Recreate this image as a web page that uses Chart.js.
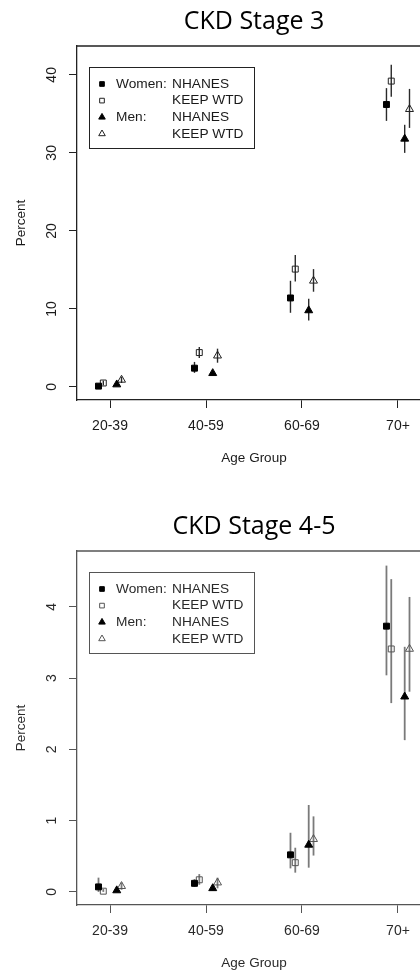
<!DOCTYPE html>
<html>
<head>
<meta charset="utf-8">
<script src="https://cdn.jsdelivr.net/npm/chart.js@4.4.1/dist/chart.umd.min.js"></script>
<style>
html, body { margin: 0; padding: 0; background: #fff; overflow: hidden; width: 420px; height: 973px; }
.panel { position: absolute; left: 0; width: 450px; height: 485px; }
</style>
</head>
<body>
<div class="panel" style="top:0"><canvas id="stage3"></canvas></div>
<div class="panel" style="top:505px"><canvas id="stage45"></canvas></div>
<script>
const ageGroups = ['20-39', '40-59', '60-69', '70+'];
const groupTicks = [1, 2, 3, 4];
const seriesNames = ['Women: NHANES', 'Women: KEEP WTD', 'Men: NHANES', 'Men: KEEP WTD'];
const legendSex = ['Women:', '', 'Men:', ''];
const legendSource = ['NHANES', 'KEEP WTD', 'NHANES', 'KEEP WTD'];
const dodge = [-0.12, -0.07, 0.07, 0.12]; // side-by-side shift within an age group

// CKD stage 3, percent (point, lower, upper)
const s3WomenNhanes = [0.1, 2.4, 11.4, 36.2];
const s3WomenNhanesLo = [0.0, 1.8, 9.5, 34.1];
const s3WomenNhanesHi = [0.3, 3.2, 13.6, 38.3];
const s3WomenKeep = [0.5, 4.4, 15.1, 39.2];
const s3WomenKeepLo = [0.2, 3.7, 13.5, 37.2];
const s3WomenKeepHi = [0.8, 5.1, 16.9, 41.3];
const s3MenNhanes = [0.3, 1.75, 9.8, 31.8];
const s3MenNhanesLo = [0.1, 1.5, 8.5, 30.0];
const s3MenNhanesHi = [0.5, 2.0, 11.3, 33.6];
const s3MenKeep = [0.9, 4.0, 13.6, 35.6];
const s3MenKeepLo = [0.5, 3.1, 12.2, 33.2];
const s3MenKeepHi = [1.3, 4.9, 15.1, 38.2];
const s3Ticks = [0, 10, 20, 30, 40];

// CKD stage 4-5, percent
const s45WomenNhanes = [0.07, 0.12, 0.52, 3.73];
const s45WomenNhanesLo = [0.0, 0.07, 0.33, 3.04];
const s45WomenNhanesHi = [0.2, 0.18, 0.83, 4.58];
const s45WomenKeep = [0.01, 0.17, 0.41, 3.41];
const s45WomenKeepLo = [0.0, 0.10, 0.27, 2.65];
const s45WomenKeepHi = [0.04, 0.25, 0.62, 4.39];
const s45MenNhanes = [0.02, 0.05, 0.66, 2.74];
const s45MenNhanesLo = [0.0, 0.02, 0.34, 2.13];
const s45MenNhanesHi = [0.05, 0.09, 1.22, 3.44];
const s45MenKeep = [0.08, 0.13, 0.74, 3.41];
const s45MenKeepLo = [0.03, 0.05, 0.51, 2.81];
const s45MenKeepHi = [0.13, 0.20, 1.06, 4.14];
const s45Ticks = [0, 1, 2, 3, 4];

const pointStyles = ['rect', 'rect', 'triangle', 'triangle'];
const filled = [true, false, true, false];

function points(k, vals, lo, hi) {
    return vals.map((v, i) => ({ x: groupTicks[i] + dodge[k], y: v, lo: lo[i], hi: hi[i] }));
}

// vertical confidence lines behind the markers
const errorBars = {
    id: 'errorBars',
    beforeDatasetsDraw(chart, args, opts) {
        const { ctx, scales: { x, y } } = chart;
        ctx.save();
        ctx.strokeStyle = opts.color;
        ctx.lineWidth = opts.width;
        chart.data.datasets.forEach(ds => {
            ds.data.forEach(p => {
                const px = x.getPixelForValue(p.x);
                ctx.beginPath();
                ctx.moveTo(px, y.getPixelForValue(p.lo));
                ctx.lineTo(px, y.getPixelForValue(p.hi));
                ctx.stroke();
            });
        });
        ctx.restore();
    }
};

// R style box round the plot plus the boxed legend
const frameLegend = {
    id: 'frameLegend',
    afterDraw(chart, args, opts) {
        const { ctx, chartArea: a } = chart;
        ctx.save();
        ctx.strokeStyle = opts.color;
        ctx.lineWidth = 1.3;
        ctx.beginPath();
        ctx.moveTo(a.left, a.top);
        ctx.lineTo(a.right, a.top);
        ctx.lineTo(a.right, a.bottom);
        ctx.stroke();

        const bx = a.left + 12, by = a.top + 21;
        ctx.lineWidth = 1;
        ctx.strokeRect(bx + 0.5, by + 0.5, 165, 81);
        ctx.font = '13.7px "Liberation Sans", Arial, sans-serif';
        ctx.textBaseline = 'middle';
        ctx.fillStyle = opts.text;
        for (let k = 0; k < 4; k++) {
            const ry = by + 17 + k * 16.6;
            ctx.save();
            ctx.fillStyle = filled[k] ? '#000' : 'rgba(0,0,0,0)';
            ctx.strokeStyle = filled[k] ? '#000' : opts.open;
            ctx.lineWidth = 1;
            Chart.helpers.drawPoint(ctx, { pointStyle: pointStyles[k], radius: k < 2 ? 3.3 : 3.8, rotation: 0, borderWidth: 1 }, bx + 13, ry);
            ctx.restore();
            ctx.fillText(legendSex[k], bx + 27, ry);
            ctx.fillText(legendSource[k], bx + 83, ry);
        }
        ctx.restore();
    }
};

function makeChart(id, title, series, yMin, yMax, yTicks, look) {
    const datasets = series.map((s, k) => ({
        label: seriesNames[k],
        data: points(k, s[0], s[1], s[2]),
        pointStyle: pointStyles[k],
        pointRadius: k < 2 ? 4.2 : 4.6,
        pointBackgroundColor: filled[k] ? '#000' : 'rgba(0,0,0,0)',
        pointBorderColor: filled[k] ? '#000' : look.open,
        pointBorderWidth: 1,
        showLine: false
    }));
    const tickFont = { family: '"Liberation Sans", Arial, sans-serif', size: 14 };
    const titleFont = { family: '"Liberation Sans", Arial, sans-serif', size: 13.5 };
    return new Chart(document.getElementById(id), {
        type: 'scatter',
        data: { datasets },
        plugins: [errorBars, frameLegend],
        options: {
            responsive: true,
            maintainAspectRatio: false,
            animation: false,
            devicePixelRatio: 1,
            layout: { padding: { left: 0, right: 19, top: 0, bottom: 0 } },
            plugins: {
                legend: { display: false },
                tooltip: { enabled: false },
                title: {
                    display: true,
                    text: title,
                    fullSize: false,
                    color: '#000',
                    font: { family: '"Open Sans", sans-serif', size: 25, weight: 'normal' },
                    padding: { top: 7, bottom: 9 }
                },
                errorBars: { color: look.bar, width: look.barWidth },
                frameLegend: { color: look.axis, text: look.text, open: look.open }
            },
            scales: {
                x: {
                    type: 'linear',
                    min: 0.656,
                    max: 4.344,
                    afterBuildTicks: s => { s.ticks = groupTicks.map(v => ({ value: v })); },
                    afterFit: s => { s.height = 85; },
                    ticks: {
                        color: look.text,
                        font: tickFont,
                        padding: 9.6,
                        maxRotation: 0,
                        callback: v => ageGroups[groupTicks.indexOf(v)]
                    },
                    grid: { drawOnChartArea: false, drawTicks: true, tickLength: 8, color: look.axis },
                    border: { display: true, color: look.axis, width: 1.3 },
                    title: { display: true, text: 'Age Group', color: look.text, font: titleFont, padding: { top: 0, bottom: 18.2 } }
                },
                y: {
                    type: 'linear',
                    min: yMin,
                    max: yMax,
                    afterBuildTicks: s => { s.ticks = yTicks.map(v => ({ value: v })); },
                    afterFit: s => { s.width = 77; },
                    ticks: {
                        color: look.text,
                        font: tickFont,
                        minRotation: 90,
                        maxRotation: 90,
                        crossAlign: 'center',
                        padding: look.yPad
                    },
                    grid: { drawOnChartArea: false, drawTicks: true, tickLength: 8, color: look.axis },
                    border: { display: true, color: look.axis, width: 1.3 },
                    title: { display: true, text: 'Percent', color: look.text, font: titleFont, padding: { top: 12.7, bottom: 0 } }
                }
            }
        }
    });
}

makeChart('stage3', 'CKD Stage 3', [
    [s3WomenNhanes, s3WomenNhanesLo, s3WomenNhanesHi],
    [s3WomenKeep, s3WomenKeepLo, s3WomenKeepHi],
    [s3MenNhanes, s3MenNhanesLo, s3MenNhanesHi],
    [s3MenKeep, s3MenKeepLo, s3MenKeepHi]
], -1.68, 43.7, s3Ticks, { axis: '#222', text: '#1a1a1a', open: '#222', bar: '#2a2a2a', barWidth: 1.4, yPad: 8.7 });

makeChart('stage45', 'CKD Stage 4-5', [
    [s45WomenNhanes, s45WomenNhanesLo, s45WomenNhanesHi],
    [s45WomenKeep, s45WomenKeepLo, s45WomenKeepHi],
    [s45MenNhanes, s45MenNhanesLo, s45MenNhanesHi],
    [s45MenKeep, s45MenKeepLo, s45MenKeepHi]
], -0.184, 4.785, s45Ticks, { axis: '#555', text: '#2a2a2a', open: '#555', bar: '#7a7a7a', barWidth: 1.8, yPad: 12.6 });
</script>
</body>
</html>
